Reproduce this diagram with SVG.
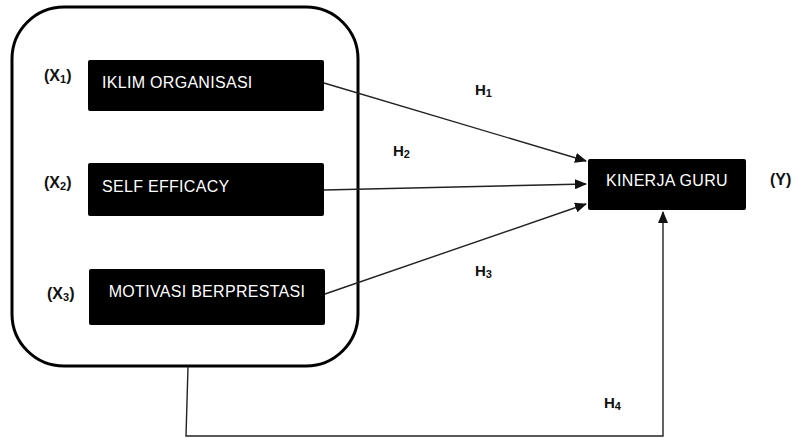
<svg xmlns="http://www.w3.org/2000/svg" width="795" height="438" viewBox="0 0 795 438">
<defs>
<marker id="ah" markerWidth="12" markerHeight="10" refX="11" refY="5" orient="auto" markerUnits="userSpaceOnUse">
<path d="M0,0 L12,5 L0,10 Z" fill="#111"/>
</marker>
<style>
.box{fill:#000;}
.bt{fill:#fff;font-family:"Liberation Sans",Arial,sans-serif;font-size:16px;letter-spacing:0.3px;}
.lb{fill:#111;font-family:"Liberation Sans",Arial,sans-serif;font-size:15px;font-weight:bold;}
.xl{font-size:16px;}
.sub{font-size:11px;}
.con{stroke:#222;stroke-width:1.4;fill:none;}
</style>
</defs>
<rect width="795" height="438" fill="#fff"/>
<g id="group">
<rect x="12" y="7" width="346" height="359" rx="52" ry="52" fill="none" stroke="#000" stroke-width="3"/>
</g>
<g id="x1">
<rect class="box" x="88" y="60" width="236" height="51" rx="2"/>
<text class="bt" x="102" y="88">IKLIM ORGANISASI</text>
<text class="lb xl" x="44" y="81">(X<tspan class="sub" dy="2">1</tspan><tspan dy="-2">)</tspan></text>
</g>
<g id="x2">
<rect class="box" x="88" y="163" width="236" height="53" rx="2"/>
<text class="bt" x="102" y="192">SELF EFFICACY</text>
<text class="lb xl" x="44" y="188">(X<tspan class="sub" dy="2">2</tspan><tspan dy="-2">)</tspan></text>
</g>
<g id="x3">
<rect class="box" x="89" y="269" width="236" height="56" rx="2"/>
<text class="bt" x="207" y="297" text-anchor="middle">MOTIVASI BERPRESTASI</text>
<text class="lb xl" x="47" y="299">(X<tspan class="sub" dy="2">3</tspan><tspan dy="-2">)</tspan></text>
</g>
<g id="y">
<rect class="box" x="588" y="159" width="158" height="51" rx="2"/>
<text class="bt" x="667" y="186" text-anchor="middle">KINERJA GURU</text>
<text class="lb xl" x="770" y="185">(Y)</text>
</g>
<g id="connectors">
<line class="con" x1="324" y1="83" x2="586" y2="161" marker-end="url(#ah)"/>
<line class="con" x1="324" y1="190" x2="586" y2="184" marker-end="url(#ah)"/>
<line class="con" x1="325" y1="294" x2="586" y2="204" marker-end="url(#ah)"/>
<polyline class="con" points="188,367 186,436 663,436 663,212" marker-end="url(#ah)"/>
</g>
<g id="labels">
<text class="lb" x="475" y="95">H<tspan class="sub" dy="2">1</tspan></text>
<text class="lb" x="393" y="156">H<tspan class="sub" dy="2">2</tspan></text>
<text class="lb" x="475" y="276">H<tspan class="sub" dy="2">3</tspan></text>
<text class="lb" x="604" y="408">H<tspan class="sub" dy="2">4</tspan></text>
</g>
</svg>
